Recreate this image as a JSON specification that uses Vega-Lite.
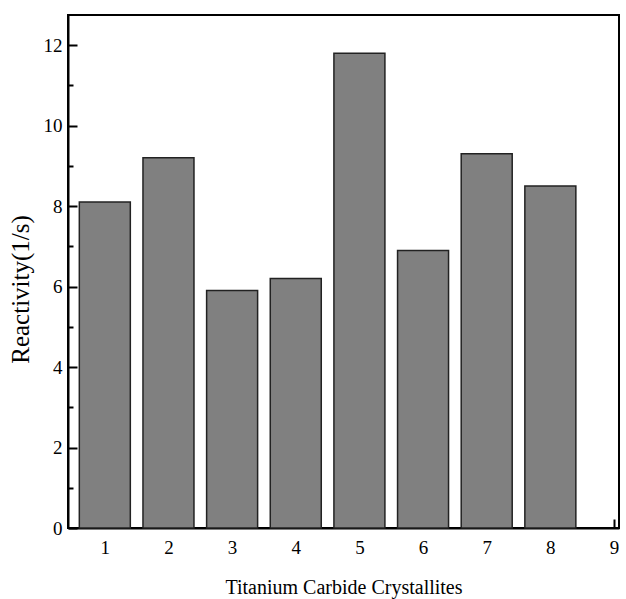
{
  "$schema": "https://vega.github.io/schema/vega-lite/v6.json",
  "width": 551,
  "height": 513,
  "autosize": {"type": "none"},
  "padding": {"left": 68, "top": 15, "right": 7, "bottom": 71},
  "background": "white",
  "config": {
    "view": {"stroke": "black", "strokeWidth": 2},
    "font": "Liberation Serif",
    "axis": {
      "domainColor": "black",
      "domainWidth": 2,
      "tickColor": "black",
      "tickWidth": 2,
      "labelColor": "black",
      "titleColor": "black",
      "labelFont": "Liberation Serif",
      "titleFont": "Liberation Serif",
      "labelFontSize": 19,
      "titleFontSize": 20,
      "titleFontWeight": "normal",
      "grid": false
    }
  },
  "data": {
    "values": [
      {"crystallite": 1, "reactivity": 8.1},
      {"crystallite": 2, "reactivity": 9.2},
      {"crystallite": 3, "reactivity": 5.9},
      {"crystallite": 4, "reactivity": 6.2},
      {"crystallite": 5, "reactivity": 11.8},
      {"crystallite": 6, "reactivity": 6.9},
      {"crystallite": 7, "reactivity": 9.3},
      {"crystallite": 8, "reactivity": 8.5}
    ]
  },
  "mark": {"type": "bar", "width": 51, "color": "#808080", "stroke": "#222222", "strokeWidth": 1.5},
  "encoding": {
    "x": {
      "field": "crystallite",
      "type": "quantitative",
      "scale": {"domain": [0.5, 9], "nice": false, "zero": false},
      "axis": {
        "values": [1, 2, 3, 4, 5, 6, 7, 8, 9],
        "format": "d",
        "tickSize": -9,
        "labelPadding": 19,
        "title": "Titanium Carbide Crystallites",
        "titlePadding": 20
      }
    },
    "y": {
      "field": "reactivity",
      "type": "quantitative",
      "scale": {"domain": [0, 12.75], "nice": false},
      "axis": {
        "values": [0, 1, 2, 3, 4, 5, 6, 7, 8, 9, 10, 11, 12],
        "labelExpr": "datum.value % 2 === 0 ? datum.label : ''",
        "tickSize": {"condition": {"test": "datum.value % 2 === 1", "value": -5}, "value": -9},
        "labelPadding": 15,
        "title": "Reactivity(1/s)",
        "titleFontSize": 25,
        "titleY": 274,
        "titlePadding": 10
      }
    }
  }
}
